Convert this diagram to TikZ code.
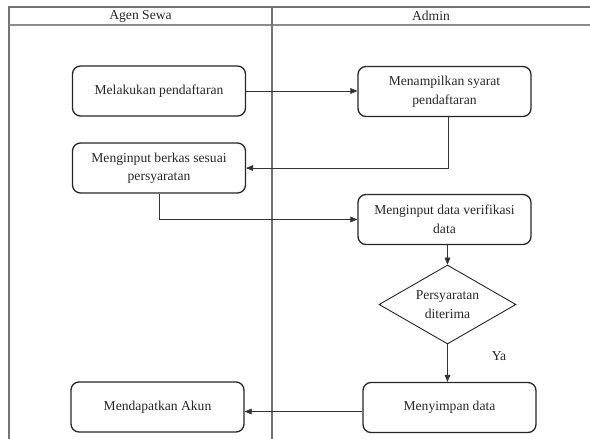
\documentclass[tikz,border=0pt]{standalone}
\usepackage{fontspec}
\setmainfont{Liberation Serif}
\usetikzlibrary{arrows}
\usetikzlibrary{shapes.geometric}
\usetikzlibrary{positioning}
\begin{document}
\begin{tikzpicture}[x=1pt,y=-1pt,act/.style={rectangle, rounded corners=8pt, draw=black!85, line width=1.3pt, minimum width=173pt, minimum height=50pt, align=center, inner sep=2pt, text=black!85, font=\fontsize{13.6}{18.5}\selectfont}]
    \tikzset{cond/.style={diamond, draw=black!85, line width=0.9pt, minimum width=137pt, minimum height=79pt, aspect=1.73, inner sep=0pt, align=center, text=black!85, font=\fontsize{13.6}{18.5}\selectfont}}
    \tikzset{flow/.style={draw=black!80, line width=0.6pt, >=triangle 45, ->}}
    \tikzset{lane/.style={draw=black!55, line width=1.1pt}}
    \tikzset{title/.style={text=black!85, font=\fontsize{13.6}{15}\selectfont}}
    \useasboundingbox (0,0) rectangle (590,439);
    % swimlanes
    \draw[lane] (9,439) -- (9,7) -- (590,7);
    \draw[lane, draw=black!45, line width=1.6pt] (9,25) -- (590,25);
    \draw[lane] (272,7) -- (272,439);
    \node[title] (agen) at (140.5,16) {Agen Sewa};
    \node[title] (admin) at (431,16) {Admin};
    % activities
    \node[act] (daftar) at (159,91) {Melakukan pendaftaran};
    \node[act] (syarat) at (444.5,91.5) {Menampilkan syarat\\pendaftaran};
    \node[act] (berkas) at (159,168) {Menginput berkas sesuai\\persyaratan};
    \node[act] (verif) at (444.5,219.5) {Menginput data verifikasi\\data};
    \node[cond] (terima) at (447.5,304.5) {Persyaratan\\diterima};
    \node[act] (simpan) at (449.5,407.5) {Menyimpan data};
    \node[act] (akun) at (157.5,407) {Mendapatkan Akun};
    \node[title] (ya) at (499,356) {Ya};
    % connectors
    \draw[flow] (daftar.east) -- (daftar.east -| syarat.west);
    \draw[flow] ([xshift=3.5pt]syarat.south) |- (berkas.east);
    \draw[flow] (berkas.south) |- (verif.west);
    \draw[flow] ([xshift=3pt]verif.south) -- (terima.north);
    \draw[flow] (terima.south) -- (terima.south |- simpan.north);
    \draw[flow] ([yshift=-4pt]simpan.west) -- ([yshift=-4pt]simpan.west -| akun.east);
\end{tikzpicture}
\end{document}
